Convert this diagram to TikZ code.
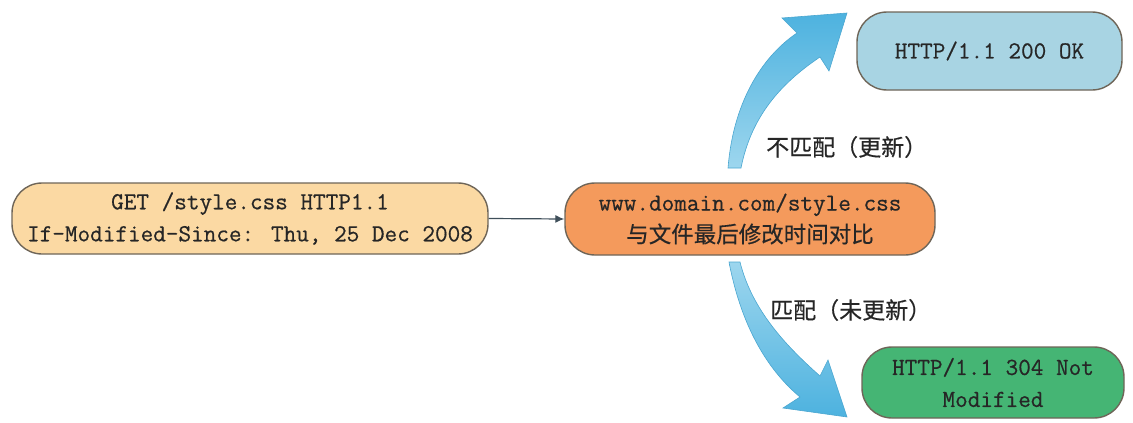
\documentclass[tikz,border=0pt]{standalone}
\usepackage{fontspec}
\newfontfamily\heavymono[FakeBold=0.6]{Latin Modern Mono}
\newfontfamily\cjk[FakeBold=0.4]{Noto Sans CJK SC}
\usetikzlibrary{arrows.meta}
\definecolor{peach}{HTML}{FBD9A3}
\definecolor{orangebox}{HTML}{F49A5C}
\definecolor{bluebox}{HTML}{A8D4E3}
\definecolor{greenbox}{HTML}{45B574}
\definecolor{boxline}{HTML}{6E6558}
\definecolor{txt}{HTML}{262626}
\definecolor{conncol}{HTML}{3F4F5A}
\definecolor{arrdeep}{HTML}{4DB2DF}
\definecolor{arrlight}{HTML}{9DD6EE}
\definecolor{arredge}{HTML}{4AA6D0}
\begin{document}
\begin{tikzpicture}[x=1pt,y=-1pt,
  box/.style={draw=boxline, line width=1.4pt, rounded corners=30pt, align=center,
    font=\heavymono\fontsize{24.5}{32}\selectfont, text=txt, inner sep=0pt},
  lbl/.style={font=\cjk\fontsize{23}{28}\selectfont, text=txt, inner sep=0pt, anchor=west},
  conn/.style={draw=conncol, line width=1.2pt, -{Latex[length=9pt,width=8pt]}},
  bigarrow/.style={draw=arredge, line width=0.6pt}]
\useasboundingbox (0,0) rectangle (1133,423);

\node[box, fill=peach, minimum width=476pt, minimum height=71pt] (req) at (250,218.5)
  {GET /style.css HTTP1.1\\If-Modified-Since: Thu, 25 Dec 2008};
\node[box, fill=orangebox, minimum width=370pt, minimum height=72pt] (cmp) at (750,219)
  {www.domain.com/style.css\\{\cjk\fontsize{22.5}{30}\selectfont 与文件最后修改时间对比}};
\node[box, fill=bluebox, minimum width=265pt, minimum height=78pt] (ok) at (989.5,51)
  {HTTP/1.1 200 OK};
\node[box, fill=greenbox, minimum width=262pt, minimum height=71pt] (nm) at (993,382.5)
  {HTTP/1.1 304 Not\\Modified};

\draw[conn] (req.east) -- (cmp.west);

% upward curved arrow (not matched)
\shade[bigarrow, top color=arrdeep, bottom color=arrlight]
  (728,168) .. controls (733,105) and (760,58) .. (797,33)
  -- (782,18) -- (847,13) -- (829,71) -- (820,57)
  .. controls (786,80) and (752,112) .. (741,168) -- cycle;

% downward curved arrow (matched)
\shade[bigarrow, top color=arrlight, bottom color=arrdeep]
  (729,262) .. controls (742,330) and (770,372) .. (800,397)
  -- (783,408) -- (847,417) -- (828,360) -- (820,376)
  .. controls (786,346) and (752,310) .. (740,262) -- cycle;

\node[lbl] (lup) at (766,147) {不匹配（更新）};
\node[lbl] (ldown) at (770,310) {匹配（未更新）};
\end{tikzpicture}
\end{document}
